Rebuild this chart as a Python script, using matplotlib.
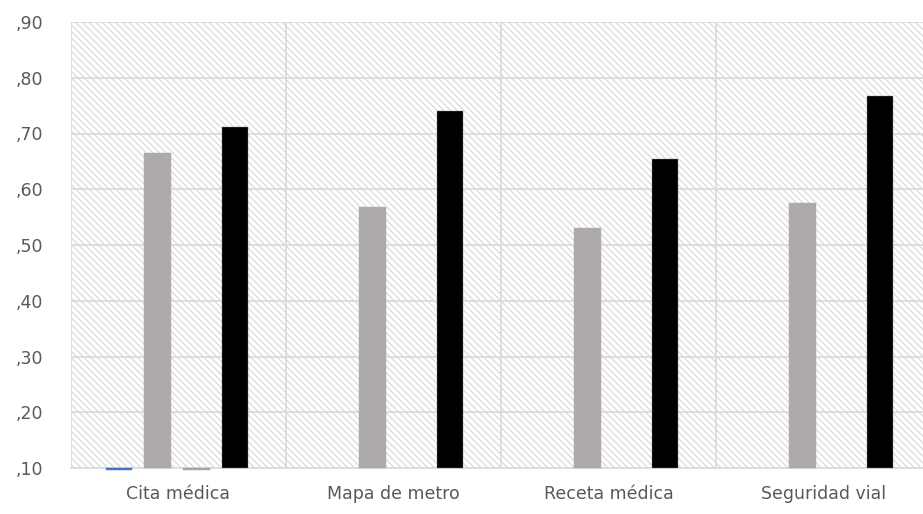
import numpy as np
import matplotlib
matplotlib.use("Agg")
import matplotlib.pyplot as plt
from matplotlib.patches import Rectangle

categories = ["Cita médica", "Mapa de metro", "Receta médica", "Seguridad vial"]
# four series per category; blue and light gray only show (just under the axis) for the first one
serie_azul = [0.097, np.nan, np.nan, np.nan]
serie_gris = [0.665, 0.568, 0.530, 0.575]
serie_gris_claro = [0.097, np.nan, np.nan, np.nan]
serie_negra = [0.712, 0.740, 0.654, 0.767]
yticks = [0.10, 0.20, 0.30, 0.40, 0.50, 0.60, 0.70, 0.80, 0.90]
ytick_labels = [",10", ",20", ",30", ",40", ",50", ",60", ",70", ",80", ",90"]

plt.rcParams['hatch.linewidth'] = 0.8
plt.rcParams['font.family'] = ['DejaVu Sans']

fig = plt.figure(figsize=(9.23, 5.14), dpi=100)
W, H = 923, 514
ax = fig.add_axes([71/W, 1-468/H, (931-71)/W, (468-22)/H])

base = 0.10
x = np.arange(len(categories))
width = 0.125
step = 0.18
series = [(serie_azul, '#4472c4', None),
          (serie_gris, '#aeaaaa', None),
          (serie_gris_claro, '#a5a5a5', None),
          (serie_negra, '#000000', '#7f7f7f')]
for k, (vals, col, ec) in enumerate(series):
    off = (k - 1.5) * step - 0.007
    v = np.array(vals, dtype=float)
    ax.bar(x + off, v - base, width, bottom=base, color=col,
           edgecolor=ec if ec else col, linewidth=0.3, zorder=3, clip_on=False)

# hatched background of the plot area
ax.add_patch(Rectangle((0, 0), 1, 1, transform=ax.transAxes, facecolor='white',
                       edgecolor='#d6d6d6', hatch='\\' * 5, linewidth=0, zorder=0))

ax.set_ylim(0.10, 0.90)
ax.set_xlim(-0.5, 3.5)
ax.set_yticks(yticks)
ax.set_yticklabels(ytick_labels)
ax.set_xticks(x)
ax.set_xticklabels(categories)
ax.set_xticks([-0.5, 0.5, 1.5, 2.5], minor=True)

ax.grid(axis='y', color='#d9d9d9', linewidth=1.2, zorder=1)
ax.grid(axis='x', which='minor', color='#d9d9d9', linewidth=1.2, zorder=1)
ax.tick_params(axis='both', which='both', length=0, labelsize=12.5, colors='#595959')
ax.tick_params(axis='y', pad=20)
ax.tick_params(axis='x', pad=12)
for s in ['top', 'right', 'left']:
    ax.spines[s].set_visible(False)
ax.spines['bottom'].set_color('#d9d9d9')
ax.spines['bottom'].set_linewidth(1.2)
ax.set_axisbelow(True)

plt.savefig('out.png', dpi=100)
